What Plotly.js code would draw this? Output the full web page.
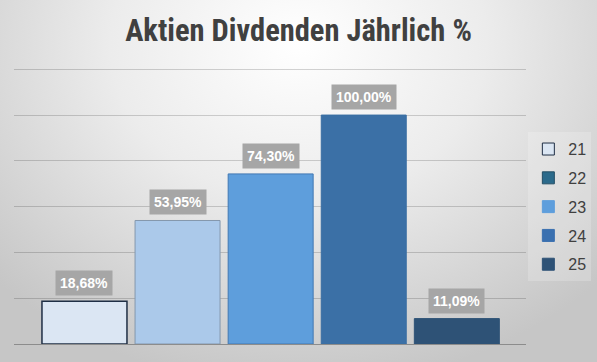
<!DOCTYPE html>
<html>
<head>
<meta charset="utf-8">
<script src="https://cdn.plot.ly/plotly-3.0.1.min.js"></script>
<style>
  html, body { margin: 0; padding: 0; }
  body {
    width: 597px; height: 362px; overflow: hidden;
    background: radial-gradient(ellipse 70% 95% at 50% 12%, #ffffff 0%, #ececec 45%, #c6c6c6 100%);
  }
  #chart { width: 597px; height: 362px; }
</style>
</head>
<body>
<div id="chart"></div>
<script>
const years = ['21', '22', '23', '24', '25'];
const values = [18.68, 53.95, 74.30, 100.00, 11.09];
const valueLabels = ['18,68%', '53,95%', '74,30%', '100,00%', '11,09%'];
const barColors = ['#dbe6f3', '#abc9ea', '#5e9edc', '#3b70a6', '#2e5276'];
const barLines = ['#1f2f45', '#8497ad', '#4279b3', '#3a6ea3', '#2e5276'];
const legendColors = ['#dbe6f3', '#2b6a8b', '#5e9edc', '#3a70b0', '#2e5276'];
const legendLines = ['#1f2f45', '#244f66', '#5e9edc', '#3a70b0', '#2e5276'];

const traces = [];
years.forEach((yr, i) => {
  traces.push({
    type: 'bar', x: [i], y: [values[i]], width: 0.913,
    marker: { color: barColors[i], line: { color: barLines[i], width: i === 0 ? 1.5 : 1 } },
    showlegend: false, hoverinfo: 'skip'
  });
});
years.forEach((yr, i) => {
  traces.push({
    type: 'bar', x: [i], y: [null], name: yr, legendgroup: yr,
    marker: { color: legendColors[i], line: { color: legendLines[i], width: 1 } },
    showlegend: true, hoverinfo: 'skip'
  });
});

const annotations = values.map((v, i) => ({
  x: i, y: v, xref: 'x', yref: 'y', text: valueLabels[i],
  showarrow: false, yanchor: 'bottom', yshift: 5,
  bgcolor: '#a6a6a6', borderpad: 4,
  font: { family: 'Liberation Sans, Arial, sans-serif', size: 14, color: '#ffffff', weight: 'bold' }
}));

const layout = {
  width: 597, height: 362,
  margin: { l: 14, r: 71, t: 67, b: 18, autoexpand: false },
  paper_bgcolor: 'rgba(0,0,0,0)', plot_bgcolor: 'rgba(0,0,0,0)',
  barmode: 'overlay',
  title: {
    text: '<b>Aktien Divdenden Jährlich %</b>',
    x: 0.5, xanchor: 'center', y: 0.915, yanchor: 'middle',
    font: { family: 'Roboto Condensed, Liberation Sans Narrow, Liberation Sans, sans-serif', size: 30.5, color: '#404040' }
  },
  xaxis: {
    range: [-0.757, 4.743], showticklabels: false, showgrid: false, zeroline: false,
    showline: false, fixedrange: true
  },
  yaxis: {
    range: [0, 121], tickvals: [20, 40, 60, 80, 100, 120], showticklabels: false, showgrid: true,
    gridcolor: 'rgba(0,0,0,0.17)', gridwidth: 1,
    zeroline: true, zerolinecolor: '#8c8c8c', zerolinewidth: 1, fixedrange: true
  },
  showlegend: true,
  legend: {
    xref: 'container', yref: 'container',
    x: 0.885, xanchor: 'left', y: 0.635, yanchor: 'top',
    font: { family: 'Liberation Sans, Arial, sans-serif', size: 16, color: '#404040' },
    bgcolor: 'rgba(255,255,255,0.2)', borderwidth: 0,
    itemwidth: 30, tracegroupgap: 5, traceorder: 'grouped'
  },
  annotations: annotations
};

Plotly.newPlot('chart', traces, layout, { displayModeBar: false, staticPlot: true });
</script>
</body>
</html>
